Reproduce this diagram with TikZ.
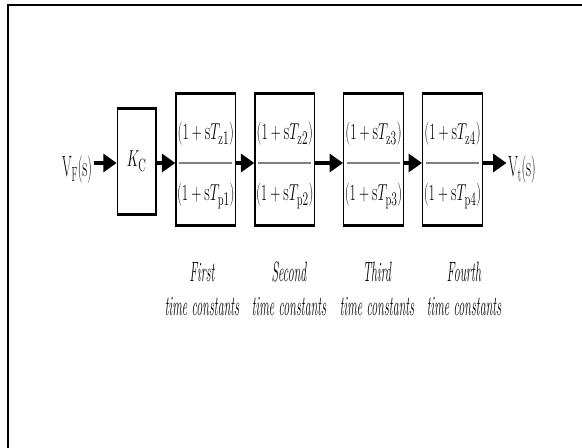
\documentclass[tikz,border=0pt]{standalone}
\usepackage{fontspec}
\usepackage{graphicx}
\usetikzlibrary{arrows.meta}
\newcommand{\squeezetext}[2]{\scalebox{#1}[1]{#2}}
\tikzset{every picture/.style={line width=0.75pt}}

\begin{document}
\begin{tikzpicture}[x=0.75pt,y=0.75pt,yscale=-1,xscale=1,
  tfbox/.style={draw, line width=1.1pt, minimum width=44.7pt, minimum height=98.2pt, inner sep=0pt, font=\fontsize{19}{22}\selectfont},
  gainbox/.style={tfbox, minimum width=29pt, minimum height=78.8pt},
  edge/.style={line width=2.4pt},
  fracline/.style={line width=2.2pt, gray},
  arr/.style={line width=2.4pt, -{Triangle[length=10pt,width=13.5pt]}},
  txt/.style={inner sep=1pt, font=\fontsize{19}{22}\selectfont},
  lbl/.style={inner sep=0pt, font=\itshape\fontsize{21}{25}\selectfont}]
\useasboundingbox (0,0) rectangle (582,448);

%Frame
\draw [line width=1.2pt] (8,448) -- (8,5) -- (582,5);
\coordinate (axis) at (0,163);

% Input and output
\node [txt] (vf) at (77,170) {\squeezetext{0.47}{\fontsize{22}{24}\selectfont$\mathrm{V}_{\mathrm{F}}(\mathrm{s})$}};
\node [txt] (vt) at (522,170) {\squeezetext{0.47}{\fontsize{22}{24}\selectfont$\mathrm{V}_{\mathrm{t}}(\mathrm{s})$}};

% Gain block
\node [gainbox] (kc) at (136.7,161.5) {\squeezetext{0.6}{$K_{\mathrm{C}}$}};
\draw [edge] (kc.north west) -- (kc.north east);
\draw [edge] (kc.south west) -- (kc.south east);

% Lead-lag blocks
\foreach \i/\x in {1/205.8,2/284.8,3/373.5,4/452.5} {
  \node [tfbox] (b\i) at (\x,159.5) {};
  \node [txt] (n\i) at (\x,134) {\squeezetext{0.6}{$(1+\mathrm{s}T_{\mathrm{z}\i})$}};
  \node [txt] (d\i) at (\x,196) {\squeezetext{0.6}{$(1+\mathrm{s}T_{\mathrm{p}\i})$}};
  \draw [fracline] ([xshift=3pt]b\i.west |- axis) -- ([xshift=-3pt]b\i.east |- axis);
  \draw [edge] (b\i.north west) -- (b\i.north east);
  \draw [edge] (b\i.south west) -- (b\i.south east);
}

% Arrows
\draw [arr] (vf.east |- axis) -- (kc.west |- axis);
\draw [arr] (kc.east |- axis) -- (b1.west |- axis);
\foreach \i/\j in {1/2,2/3,3/4}
  \draw [arr] (b\i.east |- axis) -- (b\j.west |- axis);
\draw [arr] (b4.east |- axis) -- (vt.west |- axis);

% Text Nodes
\foreach \x/\name in {202/First,289/Second,377/Third,464/Fourth}
  \node [lbl] (l\name) at (\x,292) {\squeezetext{0.43}{\begin{tabular}{@{}c@{}}\name\\time constants\end{tabular}}};
\end{tikzpicture}
\end{document}
